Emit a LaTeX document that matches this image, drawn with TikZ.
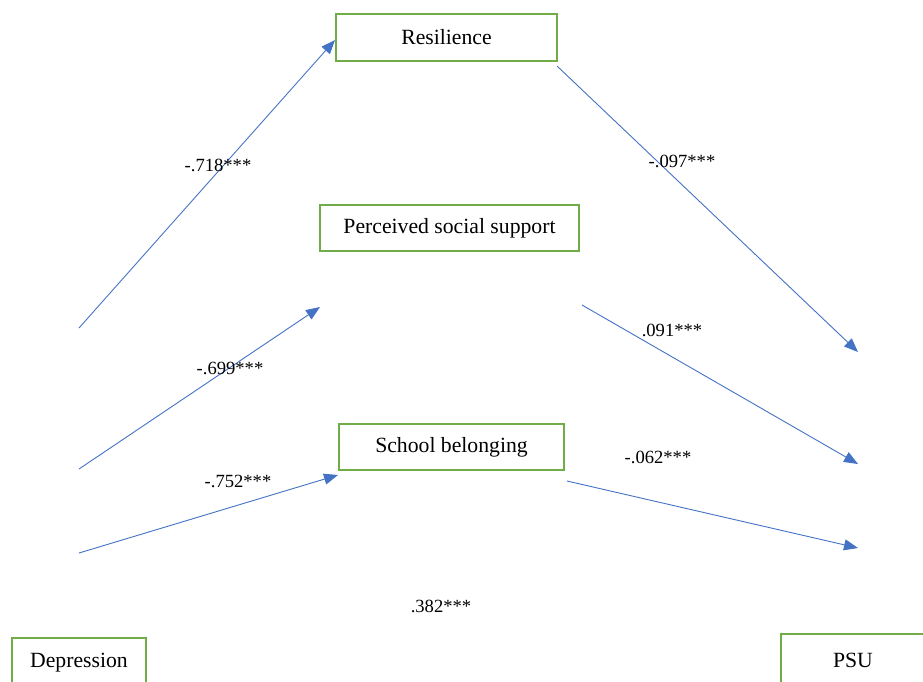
\documentclass[tikz,border=0pt]{standalone}
\usepackage{fontspec}
\setmainfont{Liberation Serif}
\usetikzlibrary{arrows.meta}
\definecolor{boxgreen}{HTML}{70AD47}
\definecolor{arrblue}{HTML}{4472C4}
\tikzset{
  var/.style={draw=boxgreen, line width=2pt, fill=white, inner sep=0pt, font=\fontsize{21.7}{26}\selectfont},
  path/.style={draw=arrblue, line width=0.9pt, -{Triangle[length=14pt,width=11pt]}},
  coef/.style={inner sep=0pt, font=\fontsize{18.6}{22}\selectfont}
}
\begin{document}
\begin{tikzpicture}[x=1pt,y=-1pt]
\useasboundingbox (0,0) rectangle (923,681);
\clip (0,0) rectangle (923,681);
\fill[white] (0,0) rectangle (923,681);
% nodes
\node[var, minimum width=221pt, minimum height=47pt] (res) at (446.5,37.5) {Resilience};
\node[var, minimum width=259pt, minimum height=46pt] (pss) at (449.5,228) {Perceived social support};
\node[var, minimum width=225pt, minimum height=46pt] (sb) at (451.5,447) {School belonging};
\node[var, minimum width=134pt, minimum height=50pt] (dep) at (79,663) {Depression};
\node[var, minimum width=144pt, minimum height=52pt] (psu) at (853,660) {PSU};
% free ends
\coordinate (d1) at (79,328);
\coordinate (d2) at (79,469);
\coordinate (d3) at (79,553);
\coordinate (e2) at (320,307);
\coordinate (r2) at (557,66);
\coordinate (s2) at (582,305);
\coordinate (b2) at (567,481);
\coordinate (p1) at (858,352);
\coordinate (p2) at (858,464);
\coordinate (p3) at (858,548);
\coordinate (resin) at ([yshift=-2.5pt]res.west);
\coordinate (sbin) at ([yshift=-28pt]sb.west);
% paths
\draw[path] (d1) -- (resin);
\draw[path] (d2) -- (e2);
\draw[path] (d3) -- (sbin);
\draw[path] (r2) -- (p1);
\draw[path] (s2) -- (p2);
\draw[path] (b2) -- (p3);
% coefficients
\node[coef] (c1) at (218,165) {-.718***};
\node[coef] (c2) at (682,161) {-.097***};
\node[coef] (c3) at (230,368) {-.699***};
\node[coef] (c4) at (672,330) {.091***};
\node[coef] (c5) at (238,481) {-.752***};
\node[coef] (c6) at (658,457) {-.062***};
\node[coef] (c7) at (441,606) {.382***};
\end{tikzpicture}
\end{document}
